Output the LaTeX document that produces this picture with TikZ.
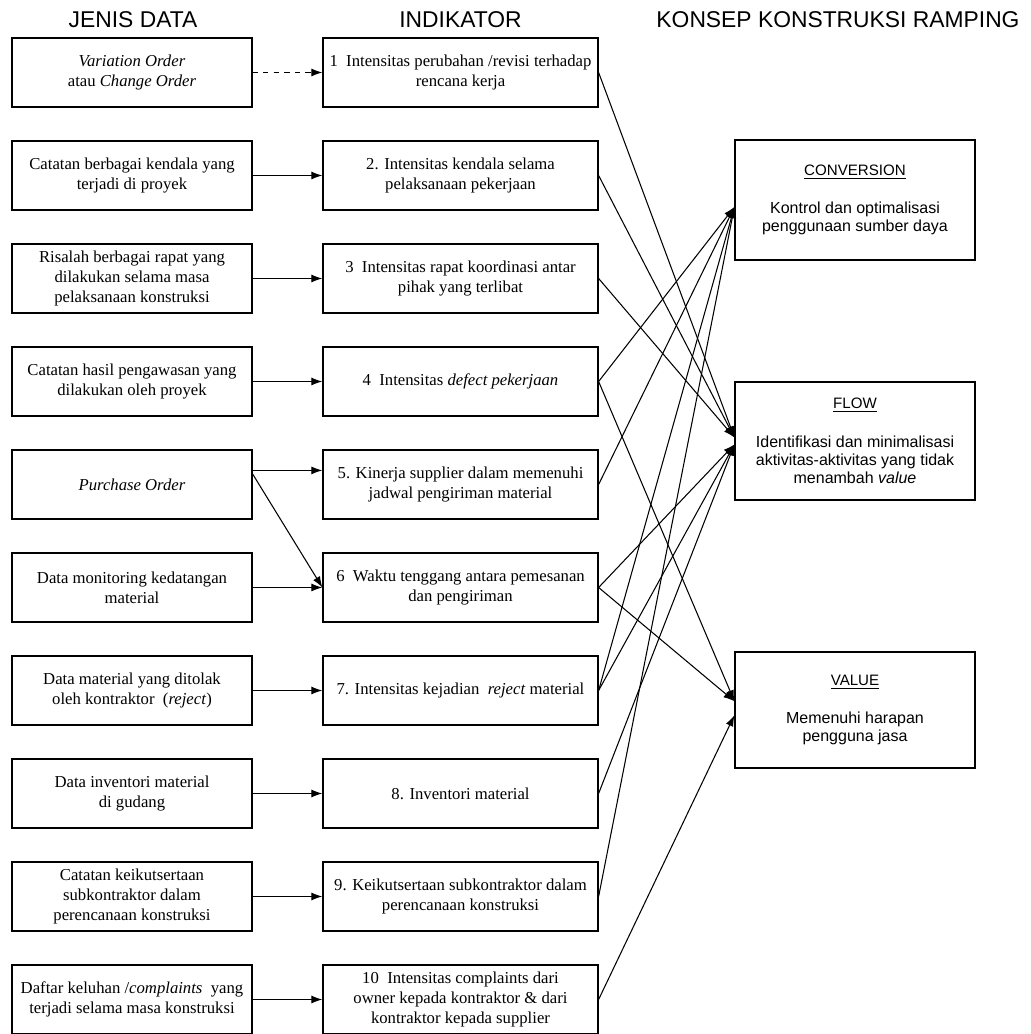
\documentclass[tikz,border=0pt]{standalone}
\usepackage{fontspec}
\setmainfont{Liberation Serif}
\setsansfont{Liberation Sans}
\usetikzlibrary{arrows.meta}

\tikzset{
  databox/.style={draw,line width=0.7pt,minimum width=4.80cm,minimum height=1.38cm,
    align=center,inner sep=2pt,font=\fontsize{9.5}{11.4}\selectfont},
  indbox/.style={databox,minimum width=5.50cm},
  konsepbox/.style={draw,line width=0.7pt,minimum width=4.80cm,align=center,
    font=\sffamily\fontsize{9.1}{10.4}\selectfont},
  header/.style={font=\sffamily\fontsize{13}{15}\selectfont},
  link/.style={line width=0.6pt,-{Latex[length=2.2mm,width=1.6mm]}}
}
\newcommand{\konseptitle}[1]{{\fontsize{8.6}{10.2}\selectfont\underline{#1}}}

\begin{document}
\begin{tikzpicture}[x=1cm,y=1cm]
\path[use as bounding box] (0,0) rectangle (20.60,20.68);

% judul kolom
\node[header] (hdata) at (2.66,20.28) {JENIS DATA};
\node[header] (hind) at (9.21,20.28) {INDIKATOR};
\node[header] (hkonsep) at (16.76,20.28) {KONSEP KONSTRUKSI RAMPING};

% jenis data
\node[databox] (d1) at (2.64,19.23) {\textit{Variation Order}\\atau \textit{Change Order}};
\node[databox] (d2) at (2.64,17.17) {Catatan berbagai kendala yang\\terjadi di proyek};
\node[databox] (d3) at (2.64,15.11) {Risalah berbagai rapat yang\\dilakukan selama masa\\pelaksanaan konstruksi};
\node[databox] (d4) at (2.64,13.05) {Catatan hasil pengawasan yang\\dilakukan oleh proyek};
\node[databox] (d5) at (2.64,10.99) {\textit{Purchase Order}};
\node[databox] (d6) at (2.64,8.93) {Data monitoring kedatangan\\material};
\node[databox] (d7) at (2.64,6.87) {Data material yang ditolak\\oleh kontraktor \ (\textit{reject})};
\node[databox] (d8) at (2.64,4.81) {Data inventori material\\di gudang};
\node[databox] (d9) at (2.64,2.75) {Catatan keikutsertaan\\subkontraktor dalam\\perencanaan konstruksi};
\node[databox] (d10) at (2.64,0.69) {Daftar keluhan /\textit{complaints} \ yang\\terjadi selama masa konstruksi};

% indikator
\node[indbox] (i1) at (9.21,19.23) {1 \ Intensitas perubahan /revisi terhadap\\rencana kerja};
\node[indbox] (i2) at (9.21,17.17) {2. Intensitas kendala selama\\pelaksanaan pekerjaan};
\node[indbox] (i3) at (9.21,15.11) {3 \ Intensitas rapat koordinasi antar\\pihak yang terlibat};
\node[indbox] (i4) at (9.21,13.05) {4 \ Intensitas \textit{defect pekerjaan}};
\node[indbox] (i5) at (9.21,10.99) {5. Kinerja supplier dalam memenuhi\\jadwal pengiriman material};
\node[indbox] (i6) at (9.21,8.93) {6 \ Waktu tenggang antara pemesanan\\dan pengiriman};
\node[indbox] (i7) at (9.21,6.87) {7. Intensitas kejadian \ \textit{reject} material};
\node[indbox] (i8) at (9.21,4.81) {8. Inventori material};
\node[indbox] (i9) at (9.21,2.75) {9. Keikutsertaan subkontraktor dalam\\perencanaan konstruksi};
\node[indbox] (i10) at (9.21,0.69) {10 \ Intensitas complaints dari\\owner kepada kontraktor \& dari\\kontraktor kepada supplier};

% konsep
\node[konsepbox,minimum height=2.40cm] (conv) at (17.10,16.68) {\konseptitle{CONVERSION}\\[4mm]Kontrol dan optimalisasi\\penggunaan sumber daya};
\node[konsepbox,minimum height=2.36cm] (flow) at (17.10,11.86) {\konseptitle{FLOW}\\[4mm]Identifikasi dan minimalisasi\\aktivitas-aktivitas yang tidak\\menambah \textit{value}};
\node[konsepbox,minimum height=2.32cm] (value) at (17.10,6.48) {\konseptitle{VALUE}\\[4mm]Memenuhi harapan\\pengguna jasa};

\coordinate (convin) at ([yshift=-4pt]conv.west);
\coordinate (flowa) at ([yshift=2pt]flow.west);
\coordinate (flowb) at ([yshift=-2pt]flow.west);
\coordinate (valuea) at ([yshift=5pt]value.west);
\coordinate (valueb) at ([yshift=-3pt]value.west);

% data -> indikator
\draw[link,dashed] (d1) -- (i1);
\draw[link] (d2) -- (i2);
\draw[link] (d3) -- (i3);
\draw[link] (d4) -- (i4);
\draw[link] ([yshift=8pt]d5.east) -- ([yshift=8pt]i5.west);
\draw[link] ([yshift=6pt]d5.east) -- (i6.west);
\draw[link] (d6) -- (i6);
\draw[link] (d7) -- (i7);
\draw[link] (d8) -- (i8);
\draw[link] (d9) -- (i9);
\draw[link] (d10) -- (i10);

% indikator -> konsep
\draw[link] (i1.east) -- (flowa);
\draw[link] (i2.east) -- (flowa);
\draw[link] (i3.east) -- (flowa);
\draw[link] (i4.east) -- (convin);
\draw[link] (i4.east) -- (valuea);
\draw[link] (i5.east) -- (convin);
\draw[link] (i6.east) -- (flowb);
\draw[link] (i6.east) -- (valuea);
\draw[link] (i7.east) -- (convin);
\draw[link] (i7.east) -- (flowb);
\draw[link] (i8.east) -- (flowb);
\draw[link] (i9.east) -- (convin);
\draw[link] (i10.east) -- (valueb);
\end{tikzpicture}
\end{document}
